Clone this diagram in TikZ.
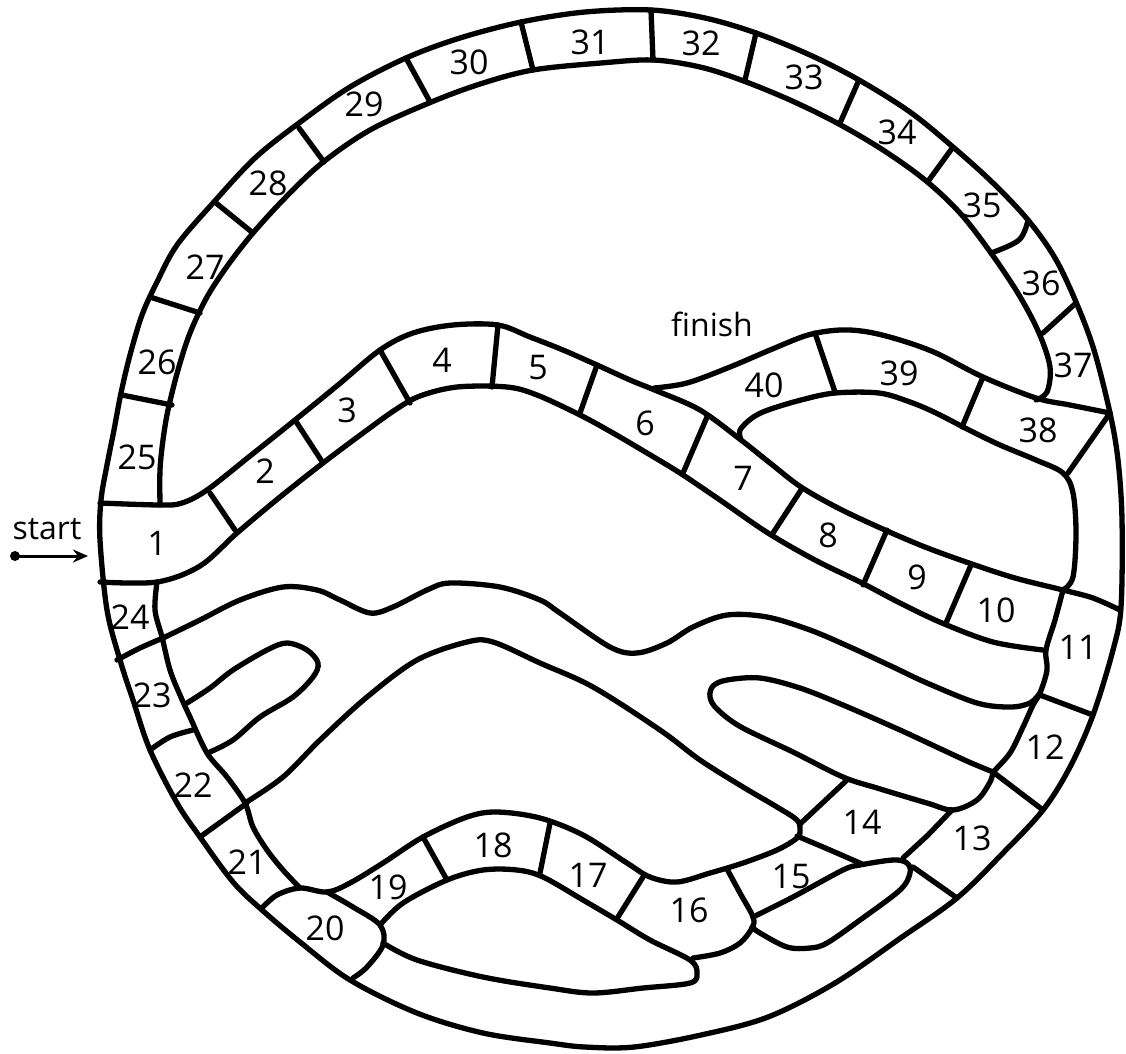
\documentclass[tikz,border=0pt]{standalone}
\usepackage{fontspec}
\setmainfont{Open Sans}
\usetikzlibrary{arrows.meta}
\begin{document}
\begin{tikzpicture}[x=1pt,y=-1pt,
  ln/.style={line width=5.3pt, line join=round, line cap=round},
  lab/.style={font=\fontsize{34}{40}\selectfont, inner sep=0pt},
  word/.style={font=\fontsize{32}{38}\selectfont, inner sep=0pt}]
\useasboundingbox[fill=white] (0,0) rectangle (1126,1053);
% outer circle
\draw[ln] plot[smooth cycle, tension=0.55] coordinates {(100,540) (101,500) (107,465) (114,430) (121,393) (130,355) (142,315) (157,282) (177,245) (213,203) (255,158) (299,123) (350,87) (406,58) (460,38) (521,22) (585,12) (651,10) (705,18) (756,33) (810,55) (859,80) (910,112) (953,147) (993,183) (1028,220) (1055,258) (1076,302) (1094,350) (1110,413) (1118,460) (1122,520) (1121,607) (1113,650) (1093,715) (1070,767) (1043,810) (1003,853) (957,898) (902,937) (835,983) (768,1017) (701,1035) (634,1047) (585,1047) (550,1043) (483,1033) (417,1013) (350,980) (300,942) (262,910) (233,882) (200,837) (177,803) (150,750) (133,700) (120,660) (107,610)};
% inner edge of the top ring
\draw[ln] plot[smooth, tension=0.55] coordinates {(160,505) (160,470) (163,440) (168,410) (178,370) (190,333) (207,297) (228,265) (253,233) (285,198) (322,163) (370,130) (429,103) (480,84) (533,70) (601,63) (653,60) (700,67) (741,80) (790,100) (837,123) (883,150) (925,180) (960,213) (991,253) (1019,295) (1039,333) (1050,367) (1047,392) (1036,400)};
% ring dividers
\draw[ln] (122,395) -- (172,405);
\draw[ln] (150,297) -- (200,313);
\draw[ln] (216,203) -- (253,233);
\draw[ln] (299,128) -- (324,162);
\draw[ln] (406,58) -- (429,100);
\draw[ln] (521,22) -- (533,70);
\draw[ln] (651,10) -- (653,60);
\draw[ln] (756,33) -- (745,80);
\draw[ln] (859,80) -- (840,123);
\draw[ln] (953,147) -- (929,180);
\draw[ln] plot[smooth, tension=0.6] coordinates {(1028,220) (1019,240) (991,253)};
\draw[ln] (1076,303) -- (1043,333);
% main track 1-11 top line
\draw[ln] plot[smooth, tension=0.55] coordinates {(100,503) (160,505) (182,503) (207,490) (250,456) (295,420) (338,385) (380,350) (413,333) (453,325) (498,325) (530,337) (563,350) (597,365) (630,380) (657,391) (700,410) (741,440) (770,463) (801,487) (840,509) (885,530) (925,547) (969,563) (1015,578) (1063,590) (1093,598) (1120,610)};
% main track bottom line
\draw[ln] plot[smooth, tension=0.55] coordinates {(100,582) (157,582) (200,566) (237,533) (280,497) (323,463) (363,433) (395,410) (420,396) (457,387) (507,387) (537,395) (580,415) (613,433) (647,453) (680,473) (720,500) (768,533) (815,560) (862,583) (900,603) (942,623) (993,642) (1043,650)};
% track dividers
\draw[ln] (210,493) -- (235,530);
\draw[ln] (295,420) -- (323,463);
\draw[ln] (380,350) -- (410,403);
\draw[ln] (498,325) -- (492,387);
\draw[ln] (597,365) -- (580,413);
\draw[ln] (707,417) -- (683,473);
\draw[ln] (801,490) -- (773,533);
\draw[ln] (887,530) -- (863,585);
\draw[ln] (971,565) -- (946,623);
% 40-39-38 track
\draw[ln] plot[smooth, tension=0.55] coordinates {(654,388) (687,383) (730,367) (770,350) (808,335) (840,330) (868,332) (900,340) (936,353) (983,377) (1036,398) (1070,405) (1110,413)};
\draw[ln] plot[smooth, tension=0.55] coordinates {(741,440) (740,430) (752,418) (768,410) (801,400) (835,393) (879,393) (910,402) (936,413) (969,430) (1000,445) (1036,460) (1063,473) (1073,493) (1076,533) (1073,577) (1063,590)};
\draw[ln] (815,333) -- (835,392);
\draw[ln] (983,377) -- (962,427);
\draw[ln] (1110,413) -- (1068,473);
% right edge of 10, 11, 12
\draw[ln] plot[smooth, tension=0.55] coordinates {(1063,590) (1055,620) (1046,650) (1047,670) (1040,693) (1033,705) (1023,727) (1010,753) (993,772)};
\draw[ln] (1040,695) -- (1093,715);
\draw[ln] (993,772) -- (1043,810);
% left band: inner edge of 24-21
\draw[ln] plot[smooth, tension=0.55] coordinates {(157,582) (155,610) (162,637) (170,670) (180,695) (190,717) (207,753) (227,777) (245,803) (253,827) (267,850) (283,870) (300,888)};
\draw[ln] plot[smooth, tension=0.6] coordinates {(117,660) (140,648) (163,638)};
\draw[ln] plot[smooth, tension=0.6] coordinates {(150,750) (170,737) (193,730)};
\draw[ln] (200,837) -- (247,803);
% upper wavy band line
\draw[ln] plot[smooth, tension=0.55] coordinates {(163,638) (200,620) (240,600) (283,587) (317,590) (340,600) (370,613) (393,607) (427,590) (450,583) (500,587) (540,600) (560,613) (610,647) (637,653) (667,643) (693,627) (727,615) (767,617) (810,630) (850,647) (893,667) (927,683) (977,703) (1010,707) (1030,703) (1040,693)};
% small left finger
\draw[ln] plot[smooth, tension=0.55] coordinates {(187,703) (210,688) (233,670) (267,650) (287,643) (307,650) (318,663) (313,677) (293,697) (260,717) (233,740) (210,752)};
% big middle loop line, 21/20 divider, top of 19-16
\draw[ln] plot[smooth, tension=0.55] coordinates {(262,908) (277,895) (300,888) (327,892) (350,883) (383,863) (423,837) (467,817) (497,812) (540,818) (583,835) (627,863) (650,877) (677,882) (710,873) (743,863) (777,850) (797,838) (800,830) (797,820) (777,807) (743,787) (700,760) (660,730) (593,687) (540,663) (493,642) (467,642) (417,660) (367,697) (320,740) (283,777) (245,803)};
% 19/20 divider and right edge of 20
\draw[ln] plot[smooth, tension=0.55] coordinates {(327,892) (353,907) (380,925) (383,945) (367,967) (353,978)};
% bottom of 19-16 and lower finger
\draw[ln] plot[smooth, tension=0.55] coordinates {(380,925) (403,903) (447,880) (483,870) (517,870) (543,877) (583,900) (617,920) (650,940) (690,960) (697,973) (690,983) (643,988) (593,993) (550,988) (483,977) (417,960) (383,943)};
\draw[ln] (423,837) -- (447,880);
\draw[ln] (550,823) -- (540,873);
\draw[ln] (643,877) -- (618,917);
% right edge of 16
\draw[ln] plot[smooth, tension=0.55] coordinates {(727,869) (740,893) (753,917) (752,928) (740,943) (720,953) (693,958)};
% small lower-right finger
\draw[ln] plot[smooth, tension=0.55] coordinates {(753,917) (793,897) (843,870) (860,865) (893,860) (907,863) (910,873) (900,890) (860,920) (827,943) (810,948) (787,947) (760,933) (752,927)};
% 14/15 line and dividers near 13-15
\draw[ln] plot[smooth, tension=0.55] coordinates {(797,836) (830,850) (862,864)};
\draw[ln] (847,780) -- (800,824);
\draw[ln] (952,810) -- (928,835) -- (903,858);
\draw[ln] (913,867) -- (957,898);
% right finger
\draw[ln] plot[smooth, tension=0.55] coordinates {(993,772) (969,762) (943,750) (900,730) (843,705) (800,688) (760,678) (727,680) (713,686) (710,697) (717,709) (741,727) (793,752) (843,777) (877,788) (927,803) (953,810) (977,800) (990,782) (993,772)};
% start arrow
\node[circle, fill, inner sep=0pt, minimum size=10pt] (dot) at (15,556) {};
\coordinate (arrowend) at (88,556);
\draw[line width=3pt, -{Stealth[length=15pt, width=13pt]}] (dot.center) -- (arrowend);
% labels
\node[word] (start) at (47,529) {start};
\node[word] (finish) at (712,324) {finish};
\node[lab] (n1) at (157,543) {1};
\node[lab] (n2) at (265,471) {2};
\node[lab] (n3) at (347,410) {3};
\node[lab] (n4) at (442,360) {4};
\node[lab] (n5) at (538,368) {5};
\node[lab] (n6) at (645,423) {6};
\node[lab] (n7) at (743,478) {7};
\node[lab] (n8) at (828,535) {8};
\node[lab] (n9) at (917,577) {9};
\node[lab] (n10) at (996,610) {10};
\node[lab] (n11) at (1078,647) {11};
\node[lab] (n12) at (1045,747) {12};
\node[lab] (n13) at (972,838) {13};
\node[lab] (n14) at (862,822) {14};
\node[lab] (n15) at (791,877) {15};
\node[lab] (n16) at (689,910) {16};
\node[lab] (n17) at (588,875) {17};
\node[lab] (n18) at (493,845) {18};
\node[lab] (n19) at (388,887) {19};
\node[lab] (n20) at (325,928) {20};
\node[lab] (n21) at (247,862) {21};
\node[lab] (n22) at (193,785) {22};
\node[lab] (n23) at (152,695) {23};
\node[lab] (n24) at (130,617) {24};
\node[lab] (n25) at (137,457) {25};
\node[lab] (n26) at (157,362) {26};
\node[lab] (n27) at (205,267) {27};
\node[lab] (n28) at (268,183) {28};
\node[lab] (n29) at (364,104) {29};
\node[lab] (n30) at (469,62) {30};
\node[lab] (n31) at (590,42) {31};
\node[lab] (n32) at (701,43) {32};
\node[lab] (n33) at (804,77) {33};
\node[lab] (n34) at (897,132) {34};
\node[lab] (n35) at (982,205) {35};
\node[lab] (n36) at (1041,283) {36};
\node[lab] (n37) at (1073,365) {37};
\node[lab] (n38) at (1038,430) {38};
\node[lab] (n39) at (899,373) {39};
\node[lab] (n40) at (764,385) {40};
\end{tikzpicture}
\end{document}
